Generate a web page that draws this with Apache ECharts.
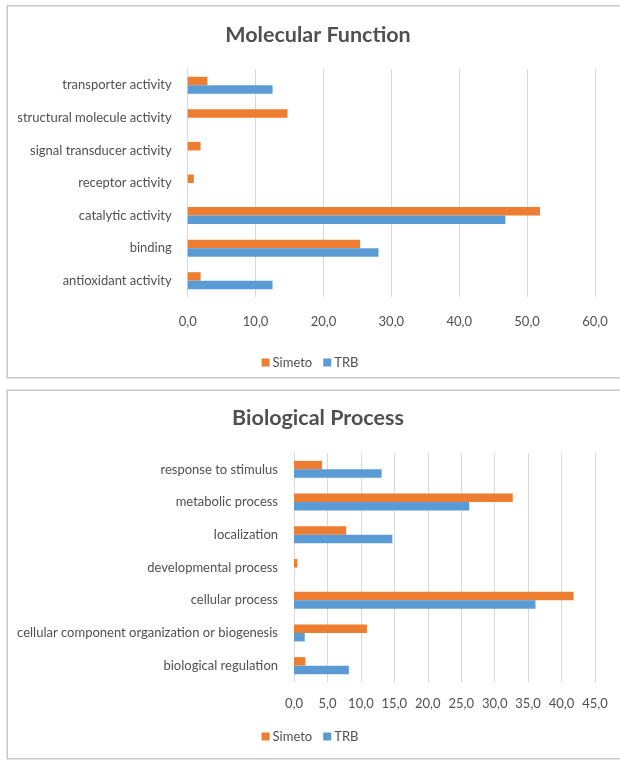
<!DOCTYPE html>
<html>
<head>
<meta charset="utf-8">
<title>Molecular Function / Biological Process</title>
<script src="https://cdn.jsdelivr.net/npm/echarts@6/dist/echarts.min.js"></script>
<style>
  html, body { margin: 0; padding: 0; background: #ffffff; }
  #chart { width: 620px; height: 762px; }
</style>
</head>
<body>
<div id="chart"></div>
<script>
// Series names
const seriesNames = ['Simeto', 'TRB'];

// Molecular Function (categories listed bottom to top)
const mfCategories = [
  'antioxidant activity',
  'binding',
  'catalytic activity',
  'receptor activity',
  'signal transducer activity',
  'structural molecule activity',
  'transporter activity'
];
const mfSimeto = [1.9, 25.4, 51.9, 0.9, 1.9, 14.7, 2.9];
const mfTRB    = [12.5, 28.1, 46.8, 0, 0, 0, 12.5];

// Biological Process (categories listed bottom to top)
const bpCategories = [
  'biological regulation',
  'cellular component organization or biogenesis',
  'cellular process',
  'developmental process',
  'localization',
  'metabolic process',
  'response to stimulus'
];
const bpSimeto = [1.7, 10.9, 41.8, 0.5, 7.8, 32.7, 4.2];
const bpTRB    = [8.2, 1.6, 36.1, 0, 14.7, 26.2, 13.1];

// Value axis ranges
const mfAxis = { min: 0, max: 60, interval: 10 };
const bpAxis = { min: 0, max: 45, interval: 5 };

const ORANGE = '#ED7D31';
const BLUE = '#5B9BD5';
const TEXT = '#505050';
const GRID = '#d9d9d9';
const FONT = 'Lato, "Open Sans", sans-serif';

const commaFmt = v => v.toFixed(1).replace('.', ',');

function valueAxis(idx, range, margin) {
  return {
    type: 'value', gridIndex: idx,
    min: range.min, max: range.max, interval: range.interval,
    axisLine: { show: false }, axisTick: { show: false },
    splitLine: { show: true, lineStyle: { color: GRID, width: 1 } },
    axisLabel: { color: TEXT, fontFamily: FONT, fontSize: 13, margin: margin, formatter: commaFmt }
  };
}
function categoryAxis(idx, cats) {
  return {
    type: 'category', gridIndex: idx, data: cats,
    axisLine: { show: true, lineStyle: { color: GRID, width: 1 } },
    axisTick: { show: false },
    axisLabel: { color: TEXT, fontFamily: FONT, fontSize: 13, margin: 16 }
  };
}
function barSeries(name, idx, data, color) {
  return {
    name: name, type: 'bar', xAxisIndex: idx, yAxisIndex: idx,
    data: data, barWidth: 8.5, barGap: '0%',
    itemStyle: { color: color }
  };
}

const chart = echarts.init(document.getElementById('chart'), null, { renderer: 'canvas' });
chart.setOption({
  animation: false,
  backgroundColor: '#ffffff',
  graphic: [
    { type: 'rect', shape: { x: 7.25, y: 5.75, width: 640, height: 372 },
      style: { fill: 'none', stroke: '#c8c8c8', lineWidth: 1.5 }, silent: true, z: -1 },
    { type: 'rect', shape: { x: 7.25, y: 390.25, width: 640, height: 368.5 },
      style: { fill: 'none', stroke: '#c8c8c8', lineWidth: 1.5 }, silent: true, z: -1 }
  ],
  title: [
    { text: 'Molecular Function', left: 318, textAlign: 'center', top: 24, padding: 0,
      textStyle: { color: TEXT, fontFamily: FONT, fontSize: 21.5, fontWeight: 'bold' } },
    { text: 'Biological Process', left: 318, textAlign: 'center', top: 407, padding: 0,
      textStyle: { color: TEXT, fontFamily: FONT, fontSize: 21.5, fontWeight: 'bold' } }
  ],
  legend: [
    { data: seriesNames, left: 'center', top: 351, icon: 'rect', itemWidth: 8, itemHeight: 8,
      itemGap: 11, textStyle: { color: TEXT, fontFamily: FONT, fontSize: 13, padding: [0, 0, 0, -2] } },
    { data: seriesNames, left: 'center', top: 725, icon: 'rect', itemWidth: 8, itemHeight: 8,
      itemGap: 11, textStyle: { color: TEXT, fontFamily: FONT, fontSize: 13, padding: [0, 0, 0, -2] } }
  ],
  grid: [
    { left: 187.7, right: 25, top: 69, height: 228, containLabel: false },
    { left: 294, right: 25, top: 453, height: 229, containLabel: false }
  ],
  xAxis: [valueAxis(0, mfAxis, 18), valueAxis(1, bpAxis, 15)],
  yAxis: [categoryAxis(0, mfCategories), categoryAxis(1, bpCategories)],
  series: [
    barSeries('Simeto', 0, mfSimeto, ORANGE),
    barSeries('TRB', 0, mfTRB, BLUE),
    barSeries('Simeto', 1, bpSimeto, ORANGE),
    barSeries('TRB', 1, bpTRB, BLUE)
  ]
});
</script>
</body>
</html>
